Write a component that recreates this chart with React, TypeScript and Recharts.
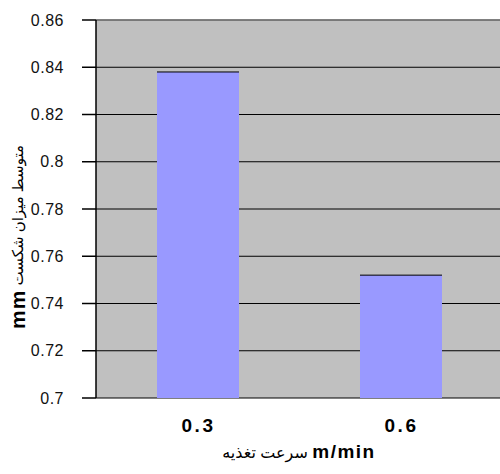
import { BarChart, Bar, XAxis, YAxis, CartesianGrid, ReferenceLine } from "recharts";

const feedRates = ["0.3", "0.6"];
const meanBreakage = [0.838, 0.752];
const yTicks = [0.7, 0.72, 0.74, 0.76, 0.78, 0.8, 0.82, 0.84, 0.86];
const edgeTicks = [0, 1, 2];

const xTitleFa = "سرعت تغذیه";
const xTitleUnit = "m/min";
const yTitleFa = "متوسط میزان شکست";
const yTitleUnit = "mm";

const data = feedRates.map((rate, i) => ({ rate, value: meanBreakage[i], pos: i + 0.5 }));

const FONT = "'Liberation Sans', Arial, 'DejaVu Sans', sans-serif";

const BarWithTop = (props: any) => {
  const { x, y, width, height } = props;
  return (
    <g>
      <rect x={x} y={y} width={width} height={height} fill="#9999FF" />
      <line x1={x} x2={x + width} y1={y} y2={y} stroke="#000" strokeWidth={1} />
    </g>
  );
};

const CatTick = (props: any) => {
  const { x, y, payload } = props;
  return (
    <text x={x + 1} y={y} dy={32} textAnchor="middle" fontFamily={FONT} fontWeight="bold" fontSize={19} letterSpacing={2.5} fill="#000">
      {payload.value}
    </text>
  );
};

const YTitle = (props: any) => {
  const { viewBox } = props;
  const cx = 17;
  const cy = viewBox.y + viewBox.height / 2 + 28;
  return (
    <text
      x={cx}
      y={cy}
      transform={`rotate(-90 ${cx} ${cy})`}
      textAnchor="middle"
      dominantBaseline="central"
      fontFamily={FONT}
      fill="#000"
    >
      <tspan fontWeight="bold" fontSize={21} letterSpacing={1}>{yTitleUnit}</tspan>
      <tspan fontSize={15}>{" " + yTitleFa}</tspan>
    </text>
  );
};

const XTitle = (props: any) => {
  const { viewBox } = props;
  const cx = viewBox.x + viewBox.width / 2;
  return (
    <text x={cx} y={viewBox.y + 60} textAnchor="middle" fontFamily={FONT} fill="#000">
      <tspan fontSize={16}>{xTitleFa + " "}</tspan>
      <tspan fontWeight="bold" fontSize={19} letterSpacing={1.5}>{xTitleUnit}</tspan>
    </text>
  );
};

export default function App() {
  return (
    <div style={{ position: "absolute", left: 0, top: 0, width: 500, height: 474, overflow: "hidden", background: "#fff" }}>
      <BarChart width={502} height={474} data={data} margin={{ top: 20, right: 0, left: 0, bottom: 0 }}>
        <CartesianGrid vertical={false} stroke="#000" strokeWidth={1} fill="#C0C0C0" />
        <XAxis
          xAxisId="edge"
          type="number"
          dataKey="pos"
          domain={[0, 2]}
          ticks={edgeTicks}
          allowDataOverflow
          height={0}
          tick={false}
          tickSize={8}
          axisLine={{ stroke: "#000", strokeWidth: 2 }}
          tickLine={{ stroke: "#000", strokeWidth: 1.5 }}
        />
        <XAxis
          xAxisId="cat"
          dataKey="rate"
          height={76}
          axisLine={false}
          tickLine={false}
          tickSize={0}
          tick={<CatTick />}
          label={<XTitle />}
        />
        <YAxis
          domain={[0.7, 0.86]}
          ticks={yTicks}
          allowDataOverflow
          width={96}
          tickSize={14}
          tickMargin={18}
          interval={0}
          tickFormatter={(v: number) => String(Number(v.toFixed(2)))}
          tick={{ fontSize: 16, fill: "#111", fontFamily: FONT, letterSpacing: 0.5 }}
          axisLine={{ stroke: "#000", strokeWidth: 1.5 }}
          tickLine={{ stroke: "#000", strokeWidth: 1.5 }}
          label={<YTitle />}
        />
        <ReferenceLine y={0.86} stroke="#808080" strokeWidth={1.5} />
        <Bar dataKey="value" xAxisId="cat" barSize={82} shape={<BarWithTop />} isAnimationActive={false} />
      </BarChart>
    </div>
  );
}
